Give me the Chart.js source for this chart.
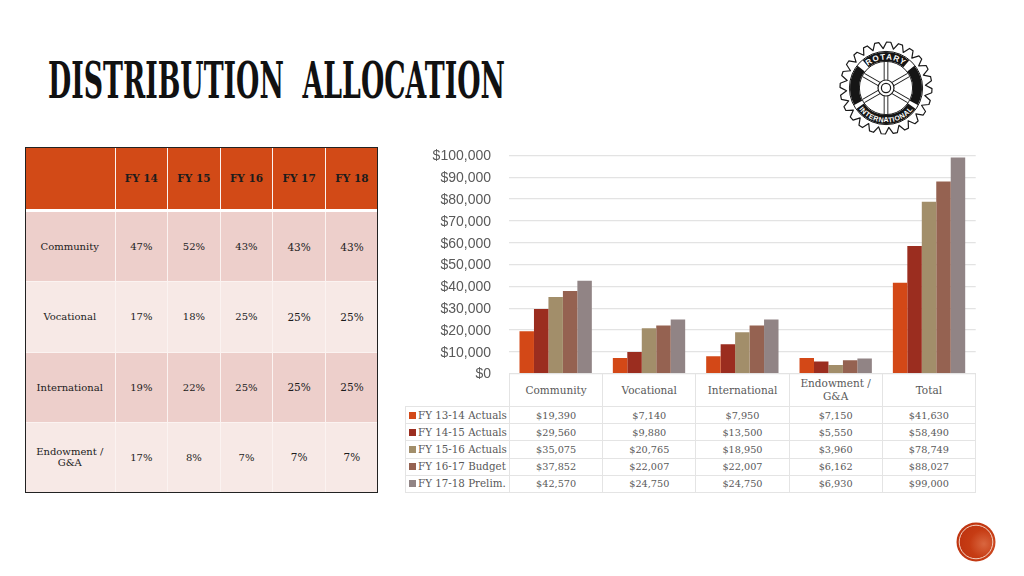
<!DOCTYPE html>
<html>
<head>
<meta charset="utf-8">
<title>Distribution Allocation</title>
<script src="https://cdn.jsdelivr.net/npm/chart.js@4"></script>
<style>
    html, body { margin: 0; padding: 0; background: #fff; width: 1024px; height: 576px; overflow: hidden; }
    body { position: relative; font-family: "DejaVu Serif", serif; }
    #title { position: absolute; left: 0; top: 0; }
    #logo { position: absolute; left: 829.5px; top: 32px; }
    #dot { position: absolute; left: 956px; top: 522px; }
    #chart { position: absolute; left: 420px; top: 129px; }

    table { position: absolute; border-collapse: collapse; table-layout: fixed; }
    td { padding: 0; text-align: center; vertical-align: middle; }

    #pct { left: 25px; top: 147px; width: 353px; height: 346px; outline: 1.5px solid #222; outline-offset: -1px; font-size: 10px; color: #1c1c1c; }
    #pct td { border: 1.5px solid #fbf3f1; height: 69px; }
    #pct tr:first-child td { background: #d24a17; font-weight: bold; font-size: 10.5px; height: 62px; border-top: 0; border-bottom: 3px solid #fff; }
    #pct tr:nth-child(even) td { background: #edcfcb; }
    #pct tr:nth-child(odd) td.body { background: #f7e9e6; }
    #pct td:first-child { border-left: 0; }
    #pct td:last-child { border-right: 0; }
    #pct td.big { font-size: 10.5px; }

    #data { left: 405px; top: 373px; font-size: 9.7px; color: #595959; line-height: 13px; }
    #data td { border: 1.3px solid #e4e4e4; height: 16.2px; }
    #data tr:first-child td { height: 32px; font-size: 10.5px; }
    #data tr:first-child td:first-child { border: 0; border-bottom: 1.3px solid #e4e4e4; }
    #data td.key { text-align: left; white-space: nowrap; font-size: 10.3px; }
    #data i { display: inline-block; width: 7px; height: 7px; margin: 0 2px 0 3px; }
</style>
</head>
<body>
<svg id="title" width="560" height="120">
    <text x="48" y="98" font-family="DejaVu Serif" font-weight="bold" font-size="50" fill="#111"
          textLength="457" lengthAdjust="spacingAndGlyphs" xml:space="preserve">DISTRIBUTION  ALLOCATION</text>
</svg>

<svg id="logo" width="112" height="112" viewBox="-56 -56 112 112"></svg>

<svg id="dot" width="40" height="40" viewBox="-20 -20 40 40">
    <defs>
        <radialGradient id="dotFill" cx="0.7" cy="0.55" r="0.6">
            <stop offset="0" stop-color="#d9663f"/>
            <stop offset="0.6" stop-color="#c63c14"/>
            <stop offset="1" stop-color="#c03510"/>
        </radialGradient>
    </defs>
    <circle r="19.5" fill="url(#dotFill)"/>
    <circle r="16.8" fill="none" stroke="#f3d3c4" stroke-width="1"/>
</svg>

<table id="pct"></table>
<table id="data"></table>
<canvas id="chart" width="570" height="271"></canvas>

<script>
// bar chart data
const categories = ['Community', 'Vocational', 'International', 'Endowment / G&A', 'Total'];
const seriesNames = ['FY 13-14 Actuals', 'FY 14-15 Actuals', 'FY 15-16 Actuals', 'FY 16-17 Budget', 'FY 17-18 Prelim.'];
const fy1314 = [19390, 7140, 7950, 7150, 41630];
const fy1415 = [29560, 9880, 13500, 5550, 58490];
const fy1516 = [35075, 20765, 18950, 3960, 78749];
const fy1617 = [37852, 22007, 22007, 6162, 88027];
const fy1718 = [42570, 24750, 24750, 6930, 99000];
const seriesColors = ['#d34817', '#9b2d1f', '#a28e6a', '#956251', '#918485'];
const tickValues = [0, 10000, 20000, 30000, 40000, 50000, 60000, 70000, 80000, 90000, 100000];

// percentage table data
const years = ['FY 14', 'FY 15', 'FY 16', 'FY 17', 'FY 18'];
const pctCommunity = ['47%', '52%', '43%', '43%', '43%'];
const pctVocational = ['17%', '18%', '25%', '25%', '25%'];
const pctInternational = ['19%', '22%', '25%', '25%', '25%'];
const pctEndowment = ['17%', '8%', '7%', '7%', '7%'];

const allSeries = [fy1314, fy1415, fy1516, fy1617, fy1718];
const money = v => '$' + v.toLocaleString('en-US');

// left table
const pctRows = [pctCommunity, pctVocational, pctInternational, pctEndowment];
const pctLabels = ['Community', 'Vocational', 'International', 'Endowment /<br>G&amp;A'];
let pctHtml = '<colgroup><col style="width:90px">' + years.map(() => '<col style="width:52.6px">').join('') + '</colgroup>';
pctHtml += '<tr><td></td>' + years.map(y => `<td>${y}</td>`).join('') + '</tr>';
pctRows.forEach((row, i) => {
    pctHtml += `<tr><td class="body">${pctLabels[i]}</td>` +
        row.map((v, c) => `<td class="body${c > 2 ? ' big' : ''}">${v}</td>`).join('') + '</tr>';
});
document.getElementById('pct').innerHTML = pctHtml;

// data table under the chart
let dataHtml = '<colgroup><col style="width:104px">' + categories.map(() => '<col style="width:93.2px">').join('') + '</colgroup>';
dataHtml += '<tr><td></td>' + categories.map(c => `<td>${c.replace('&', '&amp;').replace(' / ', ' /<br>')}</td>`).join('') + '</tr>';
allSeries.forEach((vals, i) => {
    dataHtml += `<tr><td class="key"><i style="background:${seriesColors[i]}"></i>${seriesNames[i]}</td>` +
        vals.map(v => `<td>${money(v)}</td>`).join('') + '</tr>';
});
document.getElementById('data').innerHTML = dataHtml;

// chart
new Chart(document.getElementById('chart').getContext('2d'), {
    type: 'bar',
    data: {
        labels: categories,
        datasets: allSeries.map((vals, i) => ({
            label: seriesNames[i],
            data: vals,
            backgroundColor: seriesColors[i],
            borderWidth: 0,
            barPercentage: 1,
            categoryPercentage: 0.775
        }))
    },
    options: {
        responsive: false,
        animation: false,
        layout: { padding: { top: 0.6, bottom: 0.7, right: 14.3 } },
        plugins: { legend: { display: false }, tooltip: { enabled: false } },
        scales: {
            x: { display: false },
            y: {
                min: 0,
                max: 100000,
                border: { display: false },
                grid: { color: '#e3e3e3', lineWidth: 1.2, drawTicks: false },
                afterFit: scale => { scale.width = 89; },
                afterBuildTicks: scale => { scale.ticks = tickValues.map(v => ({ value: v })); },
                ticks: {
                    padding: 18,
                    labelOffset: 1,
                    color: '#595959',
                    autoSkip: false,
                    font: { family: 'Liberation Sans', size: 14 },
                    callback: v => money(v)
                }
            }
        }
    }
});

// rotary wheel
function arc(r, fromDeg, toDeg) {
    const p = deg => {
        const a = (deg - 90) * Math.PI / 180;
        return (r * Math.cos(a)).toFixed(2) + ' ' + (r * Math.sin(a)).toFixed(2);
    };
    return `M ${p(fromDeg)} A ${r} ${r} 0 ${Math.abs(toDeg - fromDeg) > 180 ? 1 : 0} ${toDeg > fromDeg ? 1 : 0} ${p(toDeg)}`;
}

function buildLogo() {
    const teeth = 24, rOut = 46, rIn = 39.5;
    let d = '';
    for (let i = 0; i < teeth; i++) {
        const a = i / teeth * Math.PI * 2, w = Math.PI / teeth;
        const pts = [[rIn, a - w * 0.55], [rOut, a + w * 0.1], [rOut, a + w * 0.8], [rIn, a + w * 1.45]];
        pts.forEach((p, j) => {
            d += (i === 0 && j === 0 ? 'M' : 'L') + (p[0] * Math.cos(p[1])).toFixed(2) + ' ' + (p[0] * Math.sin(p[1])).toFixed(2);
        });
    }
    d += 'Z';
    let spokes = '';
    for (let i = 0; i < 6; i++) {
        const a = Math.PI / 2 + i * Math.PI / 3;
        const x1 = 8 * Math.cos(a), y1 = 8 * Math.sin(a), x2 = 26 * Math.cos(a), y2 = 26 * Math.sin(a);
        spokes += `<line x1="${x1}" y1="${y1}" x2="${x2}" y2="${y2}" stroke="#1a1a1a" stroke-width="4.6"/>` +
                  `<line x1="${x1}" y1="${y1}" x2="${x2}" y2="${y2}" stroke="#fff" stroke-width="2.8"/>`;
    }
    const bands = [[-40, 40], [52, 118], [-118, -52], [125, 235]];
    const bandPaths = bands.map(b => `<path d="${arc(31.5, b[0], b[1])}" fill="none" stroke="#151515" stroke-width="9"/>`).join('');
    document.getElementById('logo').innerHTML = `
        <defs>
            <path id="arcTop" d="${arc(28.5, -60, 60)}"/>
            <path id="arcBottom" d="${arc(34.5, 255, 105)}"/>
        </defs>
        <path d="${d}" fill="#fff" stroke="#1a1a1a" stroke-width="1.2" stroke-linejoin="round"/>
        <circle r="36.6" fill="#fff" stroke="#1a1a1a" stroke-width="1"/>
        ${bandPaths}
        <circle r="26.6" fill="#fff" stroke="#1a1a1a" stroke-width="1"/>
        ${spokes}
        <circle r="8" fill="#fff" stroke="#1a1a1a" stroke-width="1.2"/>
        <circle r="4.6" fill="#fff" stroke="#1a1a1a" stroke-width="1.2"/>
        <text font-family="Liberation Sans" font-weight="bold" font-size="8" fill="#fff" letter-spacing="1" text-anchor="middle">
            <textPath href="#arcTop" startOffset="50%">ROTARY</textPath>
        </text>
        <text font-family="Liberation Sans" font-weight="bold" font-size="7" fill="#fff" letter-spacing="0.4" text-anchor="middle">
            <textPath href="#arcBottom" startOffset="50%">INTERNATIONAL</textPath>
        </text>`;
}
buildLogo();
</script>
</body>
</html>
